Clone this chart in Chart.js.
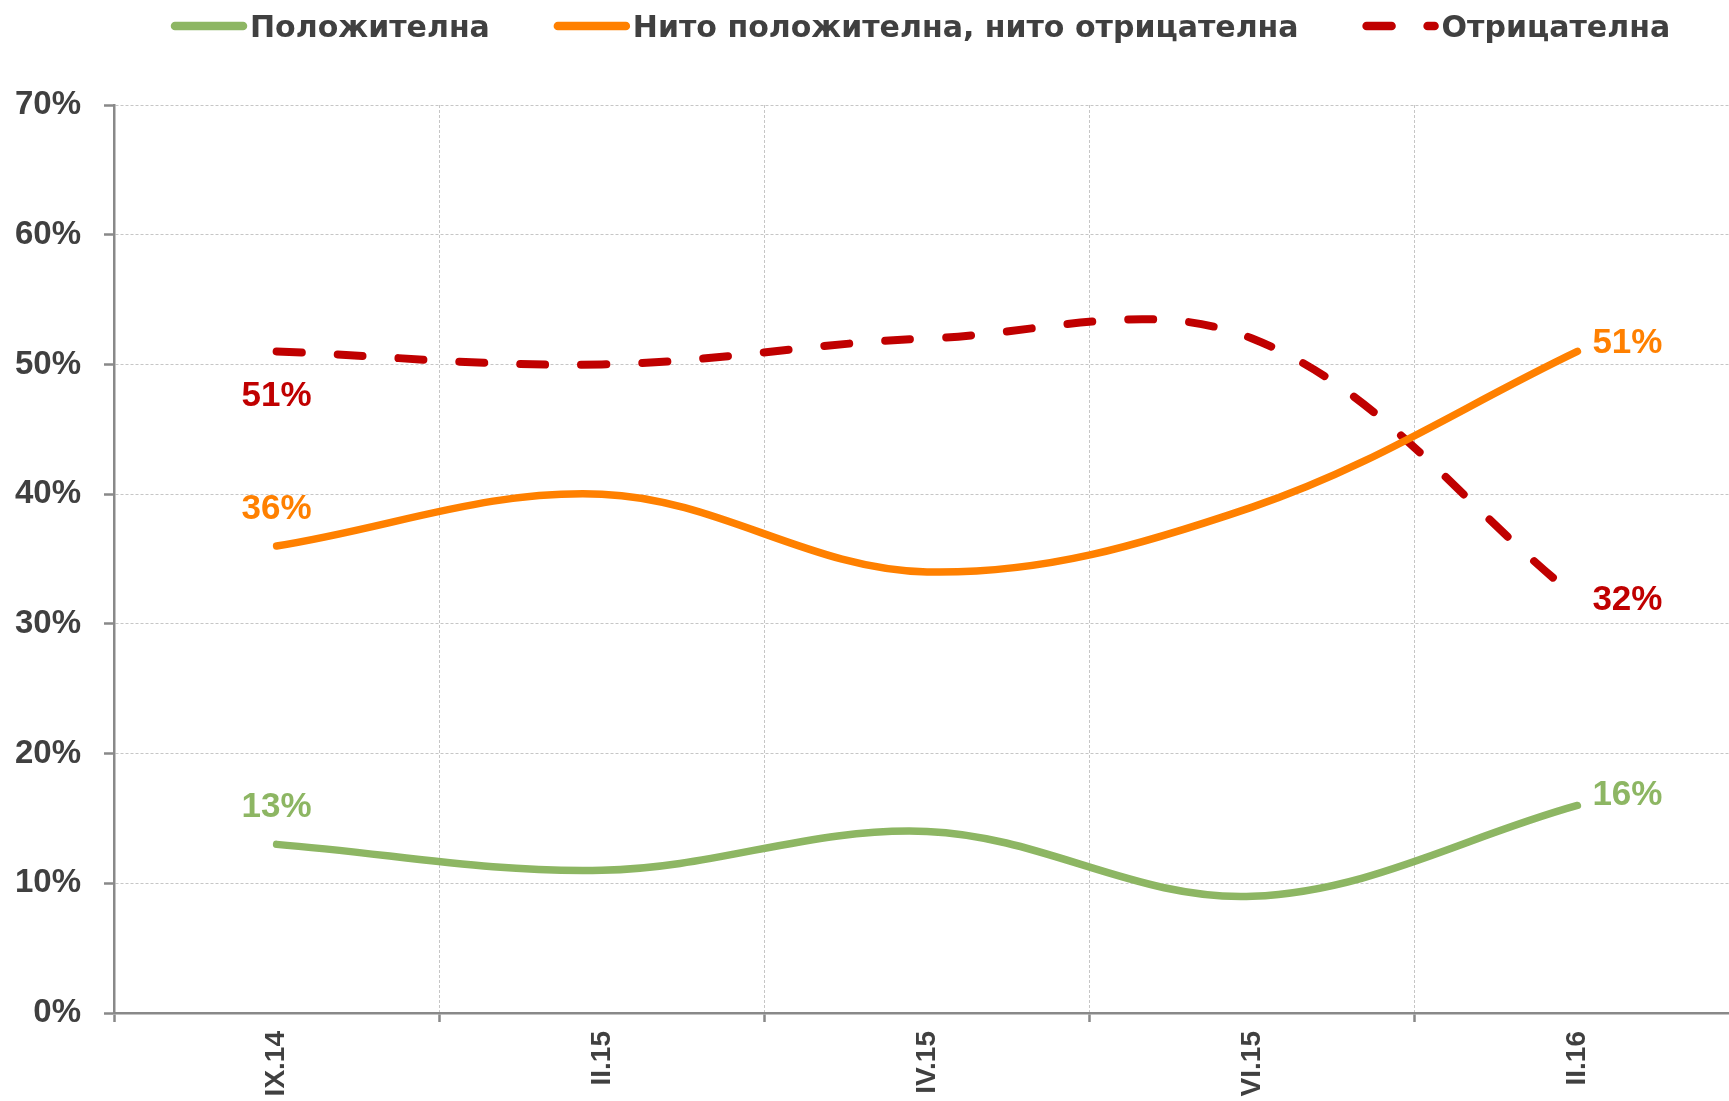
<!DOCTYPE html>
<html>
<head>
<meta charset="utf-8">
<script src="https://cdn.jsdelivr.net/npm/chart.js@4.4.1/dist/chart.umd.min.js"></script>
<style>
  html, body { margin: 0; padding: 0; background: #fff; overflow: hidden; }
  #wrap { width: 1745px; height: 1101px; position: relative; }
</style>
</head>
<body>
<div id="wrap"><canvas id="chart"></canvas></div>
<script>
const categories = ['IX.14', 'II.15', 'IV.15', 'VI.15', 'II.16'];
const positive = [13, 11, 14, 9, 16];
const neutral = [36, 40, 34, 39, 51];
const negative = [51, 50, 52, 52, 32];
const yTicks = [0, 10, 20, 30, 40, 50, 60, 70];
const seriesNames = ['Положителна', 'Нито положителна, нито отрицателна', 'Отрицателна'];

const TEXT = '#404040';
const AXIS = '#898989';
const GRID = '#c6c6c6';

function pct(value) {
  return value + '%';
}

// legend across the top, drawn by hand so it sits where the original one does
const topLegend = {
  id: 'topLegend',
  afterDraw(chart) {
    const ctx = chart.ctx;
    let x = 175;
    ctx.save();
    ctx.font = 'bold 30px "DejaVu Sans"';
    ctx.textBaseline = 'alphabetic';
    chart.data.datasets.forEach((ds) => {
      ctx.strokeStyle = ds.borderColor;
      ctx.lineWidth = 8.5;
      ctx.lineCap = 'round';
      ctx.setLineDash(ds.borderDash || []);
      ctx.beginPath();
      ctx.moveTo(x, 26);
      ctx.lineTo(x + 68, 26);
      ctx.stroke();
      ctx.setLineDash([]);
      ctx.fillStyle = TEXT;
      ctx.fillText(ds.label, x + 75, 37);
      x += 75 + ctx.measureText(ds.label).width + 68;
    });
    ctx.restore();
  }
};

// value labels on the first and last point of each line
const endLabels = {
  id: 'endLabels',
  afterDatasetsDraw(chart) {
    const ctx = chart.ctx;
    ctx.save();
    ctx.font = 'bold 35px "Liberation Sans"';
    ctx.textBaseline = 'alphabetic';
    chart.data.datasets.forEach((ds, i) => {
      const pts = chart.getDatasetMeta(i).data;
      const last = pts.length - 1;
      ctx.fillStyle = ds.borderColor;
      ctx.textAlign = 'center';
      ctx.fillText(pct(ds.data[0]), pts[0].x, pts[0].y + ds.firstLabelDy + 12.5);
      ctx.textAlign = 'left';
      ctx.fillText(pct(ds.data[last]), pts[last].x + 15, pts[last].y + ds.lastLabelDy + 12.5);
    });
    ctx.restore();
  }
};

new Chart(document.getElementById('chart'), {
  type: 'line',
  data: {
    labels: categories,
    datasets: [
      {
        label: seriesNames[0],
        data: positive,
        borderColor: '#8DB663',
        borderWidth: 7.5,
        firstLabelDy: -40,
        lastLabelDy: -13
      },
      {
        label: seriesNames[1],
        data: neutral,
        borderColor: '#FF8000',
        borderWidth: 7.5,
        firstLabelDy: -40,
        lastLabelDy: -11
      },
      {
        label: seriesNames[2],
        data: negative,
        borderColor: '#C00000',
        borderWidth: 8,
        borderDash: [25, 36],
        firstLabelDy: 42,
        lastLabelDy: 0
      }
    ]
  },
  options: {
    responsive: true,
    maintainAspectRatio: false,
    animation: false,
    layout: { padding: { top: 105, right: 5, left: 0, bottom: 0 } },
    elements: {
      point: { radius: 0, hoverRadius: 0 },
      line: { tension: 0.36, borderCapStyle: 'round', borderJoinStyle: 'round', fill: false }
    },
    plugins: {
      legend: { display: false },
      tooltip: { enabled: false }
    },
    scales: {
      x: {
        offset: true,
        afterFit: (scale) => { scale.height = 88; },
        grid: {
          offset: true,
          color: (c) => (c.index === 0 ? 'rgba(0,0,0,0)' : GRID),
          lineWidth: 1,
          tickLength: 9,
          tickColor: AXIS,
          tickWidth: 2.5
        },
        border: { color: AXIS, width: 2.5, dash: [3, 2] },
        ticks: {
          color: TEXT,
          font: { family: '"Liberation Sans"', size: 28, weight: 'bold' },
          minRotation: 90,
          maxRotation: 90,
          padding: 9
        }
      },
      y: {
        min: 0,
        max: 70,
        afterFit: (scale) => { scale.width = 114; },
        afterBuildTicks: (scale) => { scale.ticks = yTicks.map((v) => ({ value: v })); },
        grid: {
          color: (c) => (c.tick && c.tick.value === 0 ? 'rgba(0,0,0,0)' : GRID),
          lineWidth: 1,
          tickLength: 10,
          tickColor: AXIS,
          tickWidth: 2.5
        },
        border: { color: AXIS, width: 2.5, dash: [3, 2] },
        ticks: {
          color: TEXT,
          font: { family: '"Liberation Sans"', size: 33, weight: 'bold' },
          padding: 23,
          callback: (value) => pct(value)
        }
      }
    }
  },
  plugins: [topLegend, endLabels]
});
</script>
</body>
</html>
